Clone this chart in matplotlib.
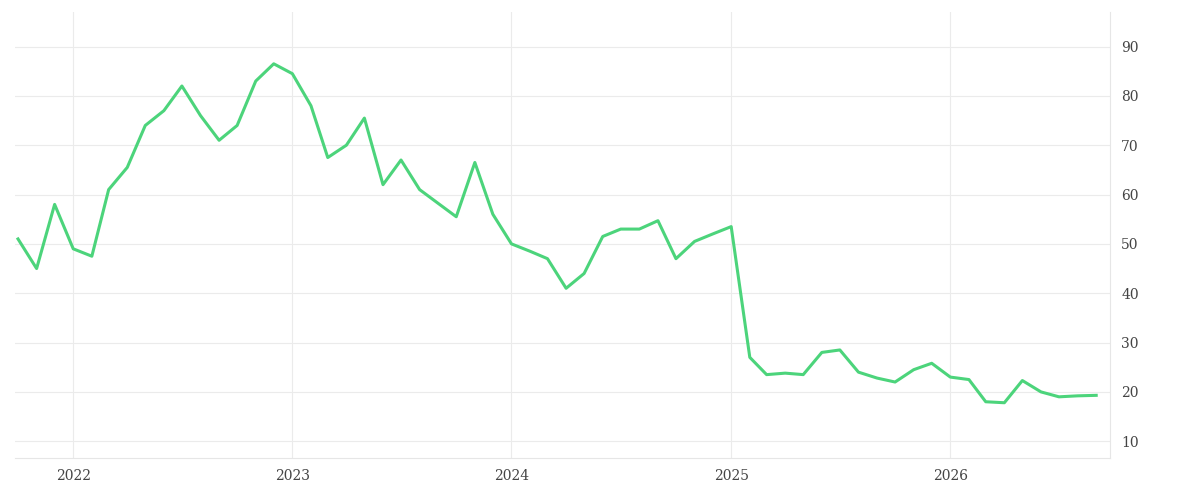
import matplotlib
matplotlib.use("Agg")
import matplotlib.pyplot as plt
import numpy as np
import pandas as pd

dates = pd.date_range("2021-10-01", periods=60, freq="MS")
values = [51, 45, 58,
          49, 47.5, 61, 65.5, 74, 77, 82, 76, 71, 74, 83, 86.5,
          84.5, 78, 67.5, 70, 75.5, 62, 67, 61, 58.2, 55.5, 66.5, 56,
          50, 48.5, 47, 41, 44, 51.5, 53, 53, 54.7, 47, 50.5, 52,
          53.5, 27, 23.5, 23.8, 23.5, 28, 28.5, 24, 22.8, 22, 24.5, 25.8,
          23, 22.5, 18, 17.8, 22.3, 20, 19, 19.2, 19.3]
year_ticks = ["2022", "2023", "2024", "2025", "2026"]
y_ticks = [10, 20, 30, 40, 50, 60, 70, 80, 90]

fig = plt.figure(figsize=(12, 5), dpi=100)
ax = fig.add_axes([15/1200, 42/500, 1095/1200, 446/500])
ax.plot(dates, values, color="#4cd47b", lw=2.2)
ax.set_ylim(6.6, 97)
ax.set_xlim(pd.Timestamp("2021-09-26"), pd.Timestamp("2026-09-24"))
ax.set_xticks([pd.Timestamp(f"{y}-01-01") for y in year_ticks])
ax.set_xticklabels(year_ticks)
ax.set_yticks(y_ticks)
ax.yaxis.tick_right()
ax.grid(True, color="#ebebeb", lw=0.8)
for s in ["top", "left"]:
    ax.spines[s].set_visible(False)
for s in ["bottom", "right"]:
    ax.spines[s].set_color("#e6e6e6")
ax.tick_params(length=0, labelsize=10, colors="#444444", pad=8)
for lbl in ax.get_xticklabels() + ax.get_yticklabels():
    lbl.set_family("DejaVu Serif")
fig.savefig("out.png")
